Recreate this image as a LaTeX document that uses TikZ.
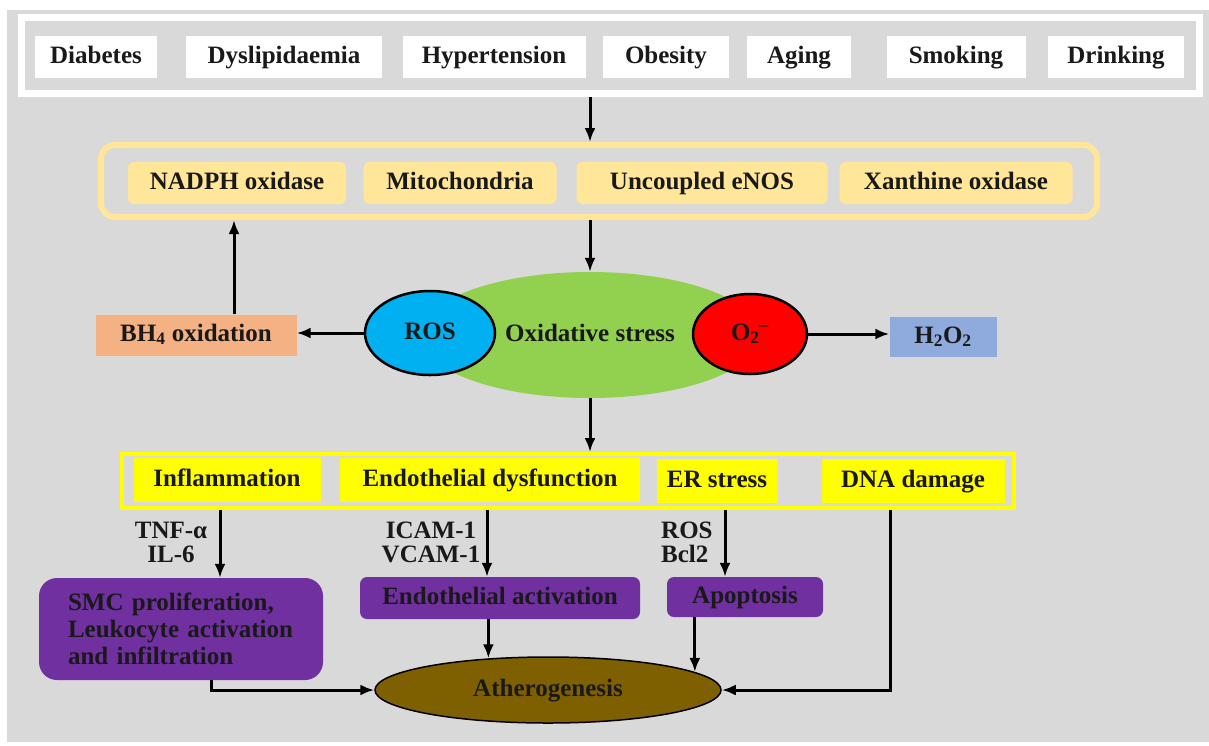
\documentclass[tikz,border=0pt]{standalone}
\usepackage{fontspec}
\setmainfont{Liberation Serif}
\usetikzlibrary{positioning,arrows.meta,shapes.geometric,calc}
\definecolor{bgGray}{HTML}{D9D9D9}
\definecolor{srcOrange}{HTML}{FFE699}
\definecolor{oxGreen}{HTML}{92D050}
\definecolor{rosBlue}{HTML}{00B0F0}
\definecolor{bhSalmon}{HTML}{F4B183}
\definecolor{hoBlue}{HTML}{8FAADC}
\definecolor{effYellow}{HTML}{FFFF00}
\definecolor{outPurple}{HTML}{7030A0}
\definecolor{athBrown}{HTML}{7F6000}

\begin{document}
\begin{tikzpicture}[
  x=1pt,y=-1pt,
  every node/.style={font=\fontsize{25}{24}\selectfont\bfseries,text=black!90,inner sep=0pt,align=center},
  oneline/.style={text height=17pt,text depth=5pt},
  riskbox/.style={oneline,fill=white,minimum height=42},
  srcbox/.style={oneline,fill=srcOrange,rounded corners=6pt,minimum height=42},
  effbox/.style={oneline,fill=effYellow,minimum height=44},
  outbox/.style={fill=outPurple,rounded corners=7pt},
  arr/.style={-{Latex[length=14pt,width=11pt]},line width=3pt}
]
\useasboundingbox (0,0) rectangle (1209,745);
\fill[bgGray] (7,10) rectangle (1209,742);

% risk factors
\node[draw=white,line width=7pt,fill=bgGray,minimum width=1178,minimum height=76] (risks) at (610.5,55.5) {};
\node[riskbox,minimum width=122] (diab) at (96,57) {Diabetes};
\node[riskbox,minimum width=196] (dysl) at (284,57) {Dyslipidaemia};
\node[riskbox,minimum width=183] (hyper) at (494,57) {Hypertension};
\node[riskbox,minimum width=126] (obes) at (666,57) {Obesity};
\node[riskbox,minimum width=104] (aging) at (799,57) {Aging};
\node[riskbox,minimum width=139] (smok) at (956,57) {Smoking};
\node[riskbox,minimum width=136] (drink) at (1116,57) {Drinking};

% ROS sources
\node[draw=srcOrange,line width=6pt,rounded corners=14pt,minimum width=996,minimum height=72] (srcs) at (599,181) {};
\node[srcbox,minimum width=218] (nadph) at (237,183) {NADPH oxidase};
\node[srcbox,minimum width=193] (mito) at (460,183) {Mitochondria};
\node[srcbox,minimum width=251] (enos) at (702,183) {Uncoupled eNOS};
\node[srcbox,minimum width=233] (xo) at (956,183) {Xanthine oxidase};

% oxidative stress
\node[ellipse,oneline,fill=oxGreen,minimum width=340,minimum height=126] (ox) at (590,335) {Oxidative stress};
\node[ellipse,oneline,draw=black,line width=2.5pt,fill=rosBlue,minimum width=130,minimum height=84] (ros) at (430,333) {ROS};
\node[ellipse,oneline,draw=black,line width=2.5pt,fill=red,minimum width=114,minimum height=80] (o2) at (750,334) {O\textsubscript{2}\textsuperscript{--}};
\node[oneline,fill=bhSalmon,minimum width=201,minimum height=41] (bh4) at (196,335) {BH\textsubscript{4} oxidation};
\node[oneline,fill=hoBlue,minimum width=107,minimum height=40] (h2o2) at (943,337) {H\textsubscript{2}O\textsubscript{2}};

% effects
\node[draw=effYellow,line width=4pt,minimum width=892,minimum height=54] (effs) at (568,481) {};
\node[effbox,minimum width=187] (infl) at (227,480) {Inflammation};
\node[effbox,minimum width=300] (endo) at (490,480) {Endothelial dysfunction};
\node[effbox,minimum width=121] (er) at (717,481) {ER stress};
\node[effbox,minimum width=183] (dna) at (913,481) {DNA damage};

% outcomes
\node[outbox,rounded corners=18pt,minimum width=284,minimum height=102,text width=226,align=left,font=\fontsize{25}{27}\selectfont\bfseries] (smc) at (181,629) {SMC proliferation,\\Leukocyte activation\\and infiltration};
\node[outbox,oneline,minimum width=280,minimum height=42] (endoact) at (500,598) {Endothelial activation};
\node[outbox,oneline,minimum width=156,minimum height=40] (apop) at (745,597) {Apoptosis};
\node[ellipse,oneline,draw=black,line width=1.5pt,fill=athBrown,minimum width=346,minimum height=66] (ath) at (548,690) {Atherogenesis};

% mediators
\node (tnf) at (171,542) {TNF-α\\IL-6};
\node (icam) at (431,542) {ICAM-1\\VCAM-1};
\node[align=left,anchor=west] (rosbcl) at (661,542) {ROS\\Bcl2};

% connectors
\draw[arr] (ox |- risks.south) -- (ox |- srcs.north);
\draw[arr] (ox |- srcs.south) -- (ox.north);
\draw[arr] (ox.south) -- (ox |- effs.north);
\draw[arr] (ros.west) -- (ros.west -| bh4.east);
\draw[arr] (o2.east) -- (o2.east -| h2o2.west);
\draw[arr] ($(bh4.north)+(38,0)$) -- ($(bh4.north |- srcs.south)+(38,0)$);
\draw[arr] ($(infl.south |- effs.south)+(-7,0)$) -- ($(infl.south |- smc.north)+(-7,0)$);
\draw[arr] ($(endo.south |- effs.south)+(-3,0)$) -- ($(endo.south |- endoact.north)+(-3,0)$);
\draw[arr] ($(er.south |- effs.south)+(8,0)$) -- ($(er.south |- apop.north)+(8,0)$);
\draw[arr] (endoact.south -| ath.152) -- (ath.152);
\draw[arr] (apop.south -| ath.7) -- (ath.7);
\draw[arr] ($(smc.south)+(30,0)$) |- (ath.west);
\draw[arr] ($(dna.south |- effs.south)+(-23,0)$) |- (ath.east);
\end{tikzpicture}
\end{document}
